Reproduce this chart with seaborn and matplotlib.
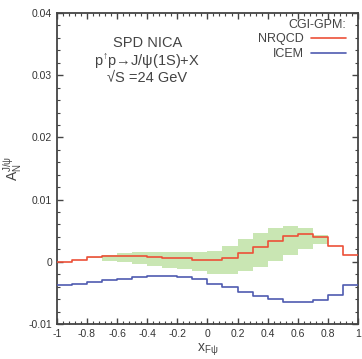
import numpy as np
import pandas as pd
import matplotlib
matplotlib.use("Agg")
import matplotlib.pyplot as plt
import seaborn as sns
from matplotlib.ticker import MultipleLocator
from matplotlib.lines import Line2D

# ---- data (bins of width 0.1 in x_F from -1 to 1) ----
bin_left = np.round(np.arange(-1.0, 1.0, 0.1), 1)
bin_right_end = 1.0
nrqcd = [0.0, 0.0003, 0.0007, 0.00095, 0.001, 0.0009, 0.0007, 0.0006, 0.00055, 0.00025,
         0.00025, 0.00065, 0.0014, 0.0024, 0.0033, 0.0041, 0.0044, 0.0040, 0.0025, 0.0011]
icem = [-0.00375, -0.0036, -0.0033, -0.0030, -0.0027, -0.0024, -0.00225, -0.00225, -0.0025, -0.0028,
        -0.0035, -0.0041, -0.0048, -0.0055, -0.0060, -0.0064, -0.0064, -0.0061, -0.0054, -0.0037]
band_lo = [0.0, 0.0003, 0.0006, 0.00016, 0.0, -0.0004, -0.0007, -0.001, -0.0011, -0.0015,
           -0.0020, -0.0019, -0.0015, -0.0009, 0.0001, 0.0011, 0.0021, 0.0028, 0.0025, 0.0011]
band_hi = [0.0, 0.0003, 0.0008, 0.0011, 0.00145, 0.0016, 0.0016, 0.0016, 0.0016, 0.0015,
           0.0018, 0.0026, 0.0036, 0.0046, 0.0055, 0.0058, 0.0055, 0.0043, 0.0025, 0.0011]

red = "#ec5038"
blue = "#4f5bb0"
green = "#c9e6b3"

sns.set_theme(style="ticks")
plt.rcParams["font.family"] = ["Liberation Sans", "DejaVu Sans"]
plt.rcParams["mathtext.fontset"] = "custom"
plt.rcParams["mathtext.rm"] = "Liberation Sans"
plt.rcParams["mathtext.it"] = "Liberation Sans"
plt.rcParams["mathtext.sf"] = "Liberation Sans"

def ext(v):
    return list(v) + [v[-1]]

xs = list(bin_left) + [bin_right_end]
df = pd.DataFrame({"x": xs * 2,
                   "y": ext(nrqcd) + ext(icem),
                   "model": ["NRQCD"] * len(xs) + ["ICEM"] * len(xs)})

fig = plt.figure(figsize=(3.62, 3.59), dpi=100)
ax = fig.add_axes([0.157, 0.0975, 0.832, 0.8663])

ax.fill_between(xs, ext(band_lo), ext(band_hi), step="post", color=green, lw=0, zorder=1)
sns.lineplot(data=df, x="x", y="y", hue="model", palette={"NRQCD": red, "ICEM": blue},
             drawstyle="steps-post", lw=1.2, ax=ax, legend=False, zorder=3)

ax.set_xlim(-1, 1)
ax.set_ylim(-0.01, 0.04)
ax.xaxis.set_major_locator(MultipleLocator(0.2))
ax.xaxis.set_minor_locator(MultipleLocator(0.04))
ax.yaxis.set_major_locator(MultipleLocator(0.01))
ax.yaxis.set_minor_locator(MultipleLocator(0.002))
ax.set_xticks(np.round(np.arange(-1, 1.01, 0.2), 1))
ax.set_xticklabels(["-1", "-0.8", "-0.6", "-0.4", "-0.2", "0", "0.2", "0.4", "0.6", "0.8", "1"])
ax.set_yticks([-0.01, 0, 0.01, 0.02, 0.03, 0.04])
ax.set_yticklabels(["-0.01", "0", "0.01", "0.02", "0.03", "0.04"])
ax.tick_params(which="both", direction="in", top=True, right=True, color="#444444",
               labelsize=7.5, labelcolor="#333333")
ax.tick_params(which="major", length=4, width=1)
ax.tick_params(which="minor", length=2, width=0.8)
for s in ax.spines.values():
    s.set_color("#444444")
    s.set_linewidth(1.3)

ax.set_xlabel(r"x$_{\mathrm{F\psi}}$", fontsize=10, color="#444444", labelpad=2)
ax.set_ylabel(r"A$_\mathrm{N}^{\mathrm{J/\psi}}$", fontsize=10, color="#444444", labelpad=2)

tc = "#444444"
ax.text(0.30, 0.905, "SPD NICA", transform=ax.transAxes, ha="center", va="center", fontsize=10.5, color=tc)
ax.text(0.30, 0.845, "p$^{\\mathrm{\u2191}}$p\u2192J/\u03c8(1S)+X", transform=ax.transAxes,
        ha="center", va="center", fontsize=10.5, color=tc)
ax.text(0.30, 0.792, "\u221aS =24 GeV", transform=ax.transAxes, ha="center", va="center",
        fontsize=10.5, color=tc)

handles = [Line2D([], [], color=red, lw=1.2), Line2D([], [], color=blue, lw=1.2)]
leg = ax.legend(handles, ["NRQCD", "ICEM"], title="CGI-GPM:", loc="upper right",
                bbox_to_anchor=(0.985, 1.005), frameon=False, markerfirst=False,
                fontsize=9, title_fontsize=9, handlelength=2.8, handletextpad=0.6,
                labelspacing=0.2, alignment="right", borderaxespad=0.2)
for t in leg.get_texts():
    t.set_color(tc)
leg.get_title().set_color(tc)

fig.savefig("out.png", dpi=100)
